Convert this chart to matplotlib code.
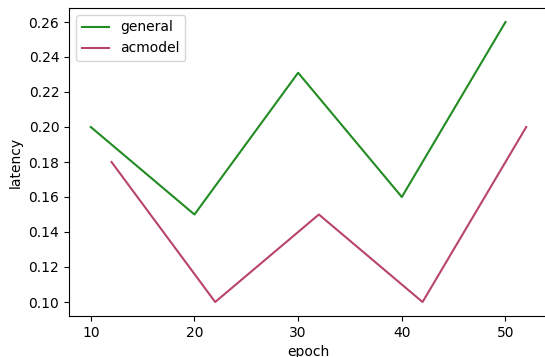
import matplotlib
matplotlib.use("Agg")
import matplotlib.pyplot as plt

# Values
general_epoch = [10, 20, 30, 40, 50]
general_latency = [0.20, 0.15, 0.231, 0.16, 0.26]
acmodel_epoch = [12, 22, 32, 42, 52]
acmodel_latency = [0.18, 0.10, 0.15, 0.10, 0.20]

fig = plt.figure(figsize=(5.45, 3.57), dpi=100)
# original image is cropped just inside the right spine
left, right = 69 / 545, 548 / 545
bottom, top = (357 - 316) / 357, (357 - 8) / 357
ax = fig.add_axes([left, bottom, right - left, top - bottom])

ax.plot(general_epoch, general_latency, color="#228b22", label="general")
ax.plot(acmodel_epoch, acmodel_latency, color="#b9446b", label="acmodel")

ax.set_xticks([10, 20, 30, 40, 50])
ax.set_xlabel("epoch")
ax.set_ylabel("latency")
ax.legend(loc="upper left")

fig.savefig("out.png", dpi=100)
